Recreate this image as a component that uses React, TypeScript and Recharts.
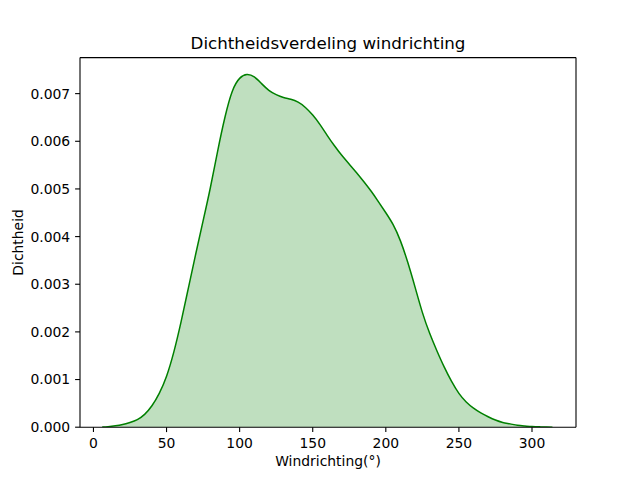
import React from 'react';
import { AreaChart, Area, XAxis, YAxis, Label } from 'recharts';

// Wind direction (degrees) sample points of the KDE curve
const windDirections = [
  6, 10, 15, 20, 25, 30, 35, 40, 45, 50, 55, 60, 65, 70, 75, 80, 85, 90, 95, 100,
  105, 110, 115, 120, 125, 130, 135, 140, 145, 150, 155, 160, 165, 170, 175, 180,
  185, 190, 195, 200, 205, 210, 215, 220, 225, 230, 235, 240, 245, 250, 255, 260,
  265, 270, 275, 280, 285, 290, 295, 300, 305, 310, 314,
];

// Density values
const densities = [
  0.000005, 0.000012, 0.000028, 0.000055, 0.0001, 0.00016, 0.00027, 0.00045, 0.00071, 0.00107,
  0.00158, 0.00222, 0.00293, 0.00364, 0.00433, 0.00503, 0.0058, 0.00651, 0.00705, 0.00732,
  0.0074, 0.00735, 0.00721, 0.00707, 0.00698, 0.00692, 0.00688, 0.00682, 0.00671, 0.00655,
  0.00635, 0.00612, 0.0059, 0.0057, 0.00552, 0.00534, 0.00515, 0.00495, 0.00473, 0.0045,
  0.00425, 0.00391, 0.00346, 0.00294, 0.00241, 0.00197, 0.0016, 0.00126, 0.00096, 0.00071,
  0.00053, 0.0004, 0.0003, 0.00022, 0.00015, 0.0001, 0.00007, 0.00004, 0.000025, 0.000014,
  0.000007, 0.000003, 0.000001,
];

const xTicks = [0, 50, 100, 150, 200, 250, 300];
const yTicks = [0, 0.001, 0.002, 0.003, 0.004, 0.005, 0.006, 0.007];

const xDomain: [number, number] = [-9.2, 330.1];
const yDomain: [number, number] = [0, 0.007756];

const data = windDirections.map((x, i) => ({ x, y: densities[i] }));

const FONT = '"DejaVu Sans", sans-serif';
const tickStyle = { fill: '#000', fontSize: 13.9, fontFamily: FONT };

export default function App() {
  return (
    <div style={{ position: 'absolute', left: 0, top: 0, width: 640, height: 480, background: '#fff' }}>
      <style>{'body{margin:0;background:#fff}'}</style>
      <AreaChart
        width={640}
        height={480}
        data={data}
        margin={{ top: 0, right: 0, bottom: 0, left: 0 }}
        style={{ fontFamily: FONT }}
      >
        <XAxis
          dataKey="x"
          type="number"
          domain={xDomain}
          ticks={xTicks}
          allowDataOverflow
          height={52.8}
          tickSize={4.9}
          tickMargin={6}
          tick={tickStyle}
          stroke="#000"
          axisLine={{ stroke: '#000', strokeWidth: 1.1 }}
          tickLine={{ stroke: '#000', strokeWidth: 1.1 }}
        >
          <Label
            value="Windrichting(°)"
            position="insideBottom"
            offset={14}
            style={{ fill: '#000', fontSize: 13.9, fontFamily: FONT }}
          />
        </XAxis>
        <XAxis
          xAxisId="top"
          dataKey="x"
          type="number"
          orientation="top"
          domain={xDomain}
          allowDataOverflow
          height={57.6}
          tick={false}
          tickLine={false}
          axisLine={{ stroke: '#000', strokeWidth: 1.1 }}
        >
          <Label
            value="Dichtheidsverdeling windrichting"
            position="insideBottom"
            offset={8.3}
            style={{ fill: '#000', fontSize: 16.7, fontFamily: FONT }}
          />
        </XAxis>
        <YAxis
          type="number"
          domain={yDomain}
          ticks={yTicks}
          allowDataOverflow
          width={80}
          tickSize={4.9}
          tickMargin={4.9}
          tick={tickStyle}
          tickFormatter={(v: number) => v.toFixed(3)}
          axisLine={{ stroke: '#000', strokeWidth: 1.1 }}
          tickLine={{ stroke: '#000', strokeWidth: 1.1 }}
        >
          <Label
            value="Dichtheid"
            angle={-90}
            position="insideLeft"
            offset={18}
            style={{ fill: '#000', fontSize: 13.9, fontFamily: FONT, textAnchor: 'middle' }}
          />
        </YAxis>
        <YAxis
          yAxisId="right"
          orientation="right"
          type="number"
          domain={yDomain}
          allowDataOverflow
          width={64}
          tick={false}
          tickLine={false}
          axisLine={{ stroke: '#000', strokeWidth: 1.1 }}
        />
        <Area
          type="natural"
          dataKey="y"
          stroke="#008000"
          strokeWidth={1.5}
          fill="#008000"
          fillOpacity={0.25}
          dot={false}
          activeDot={false}
          isAnimationActive={false}
        />
      </AreaChart>
    </div>
  );
}
